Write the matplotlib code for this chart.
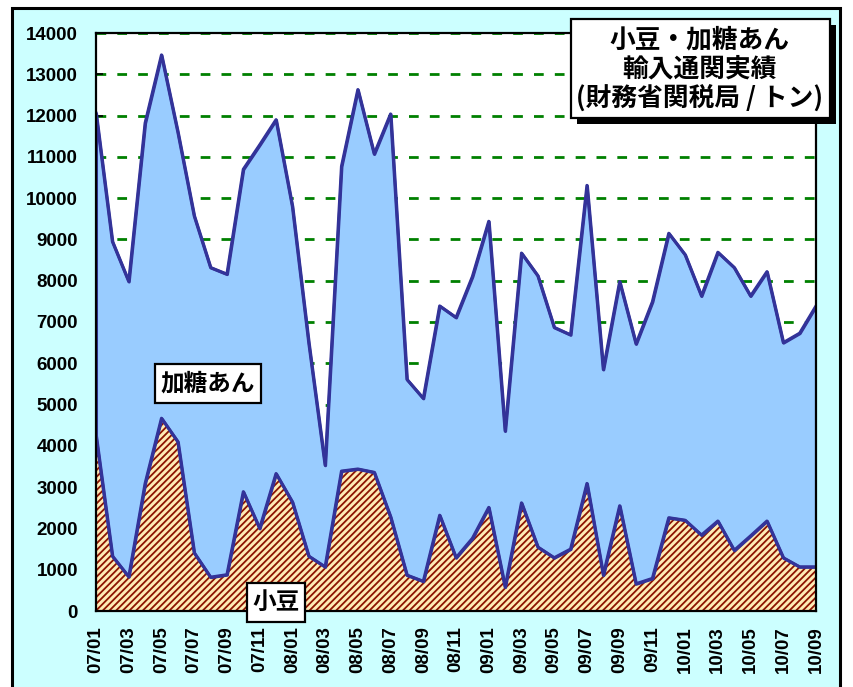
import numpy as np
import matplotlib
matplotlib.use("Agg")
import matplotlib.pyplot as plt
from matplotlib.patches import Rectangle

# monthly data 2007/01 - 2010/09 (tons)
azuki = [4250, 1330, 830, 3090, 4670, 4100, 1410, 820, 880, 2890, 2000, 3330,
         2640, 1330, 1070, 3390, 3440, 3360, 2280, 870, 720, 2320, 1290, 1760,
         2510, 580, 2620, 1550, 1290, 1500, 3090, 870, 2550, 660, 790, 2260,
         2200, 1840, 2180, 1470, 1820, 2180, 1290, 1070, 1070]
kato_an = [7810, 7620, 7150, 8730, 8800, 7500, 8160, 7500, 7280, 7810, 9290, 8570,
           7160, 5170, 2460, 7380, 9190, 7710, 9760, 4740, 4430, 5070, 5820, 6340,
           6930, 3780, 6050, 6570, 5580, 5190, 7220, 4980, 5430, 5810, 6700, 6890,
           6430, 5790, 6510, 6850, 5810, 6040, 5210, 5660, 6320]
tick_labels = ["07/01", "07/03", "07/05", "07/07", "07/09", "07/11",
               "08/01", "08/03", "08/05", "08/07", "08/09", "08/11",
               "09/01", "09/03", "09/05", "09/07", "09/09", "09/11",
               "10/01", "10/03", "10/05", "10/07", "10/09"]
y_ticks = list(range(0, 14001, 1000))

W, H = 854, 687
JP = ['Noto Sans CJK JP', 'DejaVu Sans']
NUM = ['Liberation Sans', 'DejaVu Sans']

plt.rcParams['hatch.linewidth'] = 1.3

fig = plt.figure(figsize=(W / 100, H / 100), dpi=100)
fig.patch.set_facecolor('white')


def frect(x0, y0, x1, y1, **kw):
    # rectangle in pixel coords (top-left origin)
    r = Rectangle((x0 / W, 1 - y1 / H), (x1 - x0) / W, (y1 - y0) / H,
                  transform=fig.transFigure, **kw)
    fig.add_artist(r)
    return r


def ftext(x, y, s, **kw):
    fig.text(x / W, 1 - y / H, s, ha='center', va='center', **kw)


# outer cyan frame
frect(12, 8, 840, 700, facecolor='#CCFFFF', edgecolor='black', lw=2.2, zorder=0)

ax = fig.add_axes([96 / W, 1 - 611 / H, (816 - 96) / W, (611 - 33) / H])
ax.set_facecolor('white')

x = np.arange(len(azuki))
bottom = np.array(azuki)
top = bottom + np.array(kato_an)

ax.fill_between(x, 0, bottom, facecolor='#FFEBB5', edgecolor='#8C1400',
                hatch='/////', lw=0, zorder=2)
ax.fill_between(x, bottom, top, facecolor='#99CCFF', edgecolor='#333399',
                lw=2.2, zorder=3)
ax.plot(x, top, color='#333399', lw=2.2, zorder=4)
ax.plot(x, bottom, color='#333399', lw=2.2, zorder=4)

ax.set_xlim(0, len(azuki) - 1)
ax.set_ylim(0, 14000)
ax.set_yticks(y_ticks)
ax.set_yticklabels([str(v) for v in y_ticks], fontfamily=NUM,
                   fontweight='bold', fontsize=13.5)
ax.set_xticks(x[::2])
ax.set_xticklabels(tick_labels, rotation=90, fontfamily=NUM,
                   fontweight='bold', fontsize=13.5)
ax.tick_params(axis='both', direction='in', length=5, width=1.2,
               color='black')
ax.tick_params(axis='y', pad=13)
ax.tick_params(axis='x', pad=11)

ax.yaxis.grid(True, color='#008000', lw=2.0, linestyle=(0, (3.5, 4)))
ax.set_axisbelow(True)
for s in ax.spines.values():
    s.set_color('black')
    s.set_linewidth(1.6)
    s.set_zorder(5)

# title box with shadow
frect(577, 25, 836, 124, facecolor='black', edgecolor='none', zorder=6)
frect(571, 19, 830, 118, facecolor='white', edgecolor='black', lw=1.6, zorder=7)
ftext(700, 40, '小豆・加糖あん', fontfamily=JP, fontweight='bold', fontsize=18.5, zorder=8)
ftext(700, 69, '輸入通関実績', fontfamily=JP, fontweight='bold', fontsize=18.5, zorder=8)
ftext(700, 98, '(財務省関税局 / トン)', fontfamily=JP, fontweight='bold', fontsize=18.5, zorder=8)

# series labels
frect(155, 364, 261, 403, facecolor='white', edgecolor='black', lw=1.6, zorder=7)
ftext(208, 383, '加糖あん', fontfamily=JP, fontweight='bold', fontsize=17, zorder=8)
frect(247, 583, 305, 622, facecolor='white', edgecolor='black', lw=1.6, zorder=7)
ftext(276, 602, '小豆', fontfamily=JP, fontweight='bold', fontsize=17, zorder=8)

fig.savefig('out.png', dpi=100)
